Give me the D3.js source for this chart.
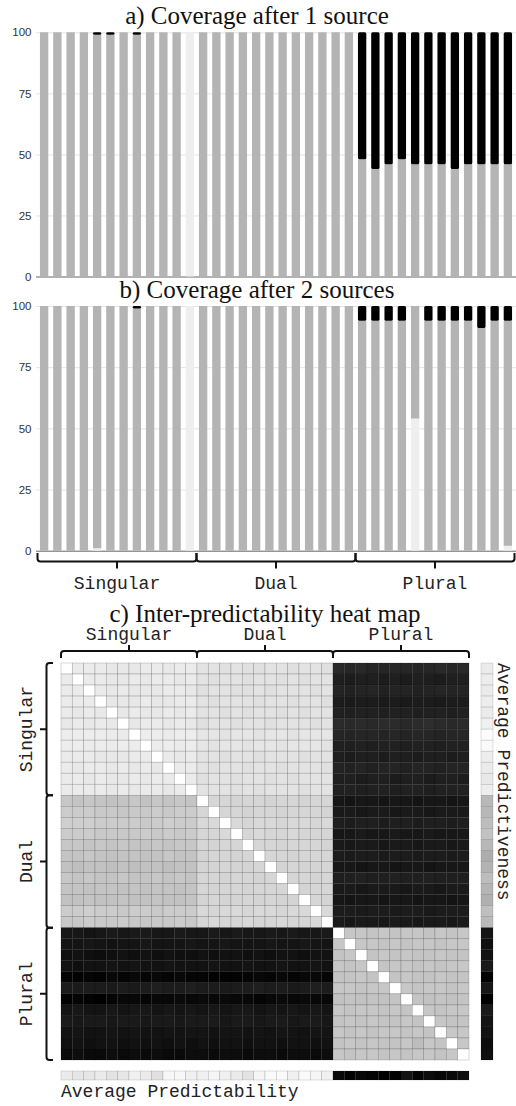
<!DOCTYPE html>
<html lang="en">
    <head>
        <meta charset="UTF-8" />
        <title>Coverage and inter-predictability</title>
        <script src="https://cdn.jsdelivr.net/npm/d3@7/dist/d3.min.js"></script>
    </head>
    <body style="padding: 0; margin: 0; background-color: #fff;">
        <script>
            // cells of the paradigm, 12 per number
            const groups = ['Singular', 'Dual', 'Plural'];
            const cells = [
                'S1', 'S2', 'S3', 'S4', 'S5', 'S6', 'S7', 'S8', 'S9', 'S10', 'S11', 'S12',
                'D1', 'D2', 'D3', 'D4', 'D5', 'D6', 'D7', 'D8', 'D9', 'D10', 'D11', 'D12',
                'P1', 'P2', 'P3', 'P4', 'P5', 'P6', 'P7', 'P8', 'P9', 'P10', 'P11', 'P12'
            ];
            const yTicks = [0, 25, 50, 75, 100];

            // a) coverage after 1 source (percent)
            const aLight = [0, 0, 0, 0, 0, 0, 0, 0, 0, 0, 0, 100, 0, 0, 0, 0, 0, 0, 0, 0, 0, 0, 0, 0, 0, 0, 0, 0, 0, 0, 0, 0, 0, 0, 0, 0];
            const aGray = [100, 100, 100, 100, 99, 99, 100, 99, 100, 100, 100, 0, 100, 100, 100, 100, 100, 100, 100, 100, 100, 100, 100, 100, 48, 44, 46, 48, 46, 46, 46, 44, 46, 46, 46, 46];
            const aBlack = [0, 0, 0, 0, 1, 1, 0, 1, 0, 0, 0, 0, 0, 0, 0, 0, 0, 0, 0, 0, 0, 0, 0, 0, 52, 56, 54, 52, 54, 54, 54, 56, 54, 54, 54, 54];

            // b) coverage after 2 sources (percent)
            const bLight = [0, 0, 0, 0, 1, 0, 0, 0, 0, 0, 0, 100, 0, 0, 0, 0, 0, 0, 0, 0, 0, 0, 0, 0, 0, 0, 0, 0, 54, 0, 0, 0, 0, 0, 0, 2];
            const bGray = [100, 100, 100, 100, 99, 100, 100, 99, 100, 100, 100, 0, 100, 100, 100, 100, 100, 100, 100, 100, 100, 100, 100, 100, 94, 94, 94, 94, 46, 94, 94, 94, 94, 91, 94, 92];
            const bBlack = [0, 0, 0, 0, 0, 0, 0, 1, 0, 0, 0, 0, 0, 0, 0, 0, 0, 0, 0, 0, 0, 0, 0, 0, 6, 6, 6, 6, 0, 6, 6, 6, 6, 9, 6, 6];

            // c) inter-predictability, row predicts column (0 = black, 100 = white)
            const heat = [
                [100, 92, 92, 92, 91, 91, 91, 92, 92, 91, 92, 92, 89, 89, 88, 89, 88, 88, 89, 89, 88, 89, 89, 88, 16, 15, 16, 14, 15, 15, 15, 14, 15, 16, 15, 16],
                [92, 100, 92, 92, 91, 91, 92, 91, 92, 92, 91, 92, 89, 88, 89, 89, 88, 89, 89, 88, 89, 88, 89, 89, 12, 11, 12, 12, 11, 12, 11, 12, 12, 11, 12, 12],
                [92, 92, 100, 92, 91, 92, 91, 91, 91, 92, 92, 91, 88, 89, 89, 88, 88, 89, 88, 89, 89, 89, 88, 89, 14, 13, 14, 15, 13, 14, 14, 13, 14, 15, 14, 14],
                [92, 92, 92, 100, 91, 91, 91, 92, 91, 91, 92, 92, 89, 88, 89, 89, 89, 88, 89, 89, 88, 89, 89, 88, 11, 10, 11, 11, 10, 11, 10, 11, 11, 10, 11, 11],
                [92, 91, 92, 91, 100, 91, 92, 91, 91, 92, 91, 92, 89, 89, 88, 89, 88, 89, 89, 88, 89, 88, 89, 89, 13, 12, 13, 13, 12, 13, 13, 12, 13, 13, 12, 13],
                [91, 92, 91, 92, 91, 100, 91, 92, 92, 91, 92, 91, 88, 89, 89, 88, 89, 89, 88, 89, 89, 89, 88, 89, 17, 16, 17, 16, 17, 17, 16, 17, 18, 17, 16, 17],
                [93, 93, 93, 93, 92, 92, 100, 93, 93, 92, 93, 93, 90, 90, 89, 90, 90, 89, 90, 90, 89, 90, 90, 90, 15, 14, 15, 15, 14, 15, 14, 15, 15, 14, 15, 15],
                [93, 93, 92, 93, 92, 93, 93, 100, 93, 93, 92, 93, 90, 89, 90, 90, 89, 90, 90, 89, 90, 90, 90, 89, 13, 12, 13, 12, 13, 13, 12, 13, 13, 12, 13, 13],
                [92, 92, 92, 91, 91, 91, 92, 92, 100, 92, 91, 92, 89, 89, 88, 89, 89, 88, 89, 89, 89, 88, 89, 89, 12, 11, 12, 12, 11, 12, 12, 11, 12, 12, 11, 12],
                [92, 91, 92, 92, 91, 92, 91, 92, 91, 100, 92, 92, 89, 88, 89, 89, 88, 89, 89, 88, 89, 89, 89, 88, 14, 13, 14, 13, 14, 14, 13, 14, 14, 13, 14, 14],
                [92, 92, 91, 92, 91, 91, 92, 91, 92, 92, 100, 92, 88, 89, 89, 88, 89, 89, 88, 89, 88, 89, 89, 89, 12, 12, 11, 12, 12, 11, 12, 12, 11, 12, 12, 11],
                [92, 92, 92, 92, 91, 92, 91, 92, 92, 91, 92, 100, 89, 89, 89, 88, 89, 88, 89, 89, 89, 88, 89, 89, 13, 13, 12, 13, 13, 12, 13, 13, 12, 13, 13, 13],
                [78, 77, 78, 77, 76, 77, 78, 76, 78, 77, 78, 77, 100, 84, 84, 83, 84, 84, 83, 84, 84, 83, 84, 84, 9, 8, 9, 9, 8, 9, 9, 8, 9, 9, 8, 9],
                [80, 80, 80, 79, 79, 78, 79, 79, 80, 79, 80, 80, 84, 100, 84, 84, 83, 84, 84, 83, 84, 84, 84, 83, 10, 10, 9, 10, 10, 9, 10, 10, 9, 10, 10, 10],
                [81, 81, 81, 80, 80, 80, 80, 79, 80, 81, 80, 80, 85, 85, 100, 85, 84, 85, 85, 84, 85, 85, 84, 85, 12, 11, 12, 12, 11, 12, 12, 11, 12, 12, 11, 12],
                [80, 80, 80, 79, 79, 79, 79, 80, 79, 80, 79, 80, 84, 84, 85, 100, 84, 85, 84, 84, 85, 84, 84, 84, 9, 9, 10, 9, 9, 10, 9, 9, 10, 9, 9, 9],
                [78, 78, 77, 78, 77, 78, 77, 77, 78, 77, 78, 78, 84, 83, 84, 84, 100, 84, 84, 83, 84, 84, 84, 83, 10, 9, 10, 10, 9, 10, 10, 9, 10, 10, 9, 10],
                [77, 77, 78, 77, 76, 77, 77, 76, 77, 78, 77, 77, 83, 84, 84, 83, 84, 100, 84, 84, 83, 84, 84, 84, 11, 10, 11, 11, 10, 11, 11, 10, 11, 11, 10, 11],
                [76, 75, 76, 76, 75, 76, 75, 76, 76, 75, 76, 76, 83, 83, 84, 83, 83, 84, 100, 83, 84, 83, 83, 84, 9, 9, 8, 9, 9, 8, 9, 9, 8, 9, 9, 9],
                [78, 77, 78, 77, 77, 78, 77, 77, 78, 77, 78, 77, 84, 84, 83, 84, 84, 83, 84, 100, 84, 84, 83, 84, 12, 12, 13, 12, 12, 13, 12, 12, 13, 12, 12, 12],
                [77, 77, 76, 77, 77, 76, 77, 76, 77, 77, 76, 77, 84, 83, 84, 84, 83, 84, 84, 84, 100, 83, 84, 84, 10, 10, 9, 10, 10, 10, 9, 10, 10, 9, 10, 10],
                [76, 76, 77, 76, 76, 77, 76, 76, 77, 76, 76, 77, 83, 84, 83, 83, 84, 83, 84, 83, 83, 100, 84, 83, 9, 8, 9, 9, 8, 9, 9, 8, 9, 9, 8, 9],
                [80, 80, 81, 80, 80, 79, 80, 80, 79, 80, 80, 80, 85, 84, 85, 85, 84, 85, 85, 84, 85, 85, 100, 85, 11, 11, 10, 11, 11, 10, 11, 11, 10, 11, 11, 11],
                [79, 79, 80, 79, 79, 80, 79, 78, 79, 79, 80, 79, 84, 85, 84, 84, 85, 84, 84, 85, 84, 84, 85, 100, 10, 9, 10, 10, 9, 10, 10, 9, 10, 10, 9, 10],
                [9, 9, 8, 9, 10, 9, 10, 10, 9, 9, 10, 9, 9, 10, 9, 10, 9, 9, 10, 9, 10, 9, 9, 10, 100, 78, 78, 77, 78, 77, 78, 78, 77, 78, 77, 78],
                [8, 8, 9, 8, 7, 8, 8, 9, 8, 8, 8, 9, 8, 8, 9, 8, 8, 8, 9, 8, 8, 9, 8, 8, 78, 100, 78, 78, 77, 78, 77, 78, 78, 77, 78, 78],
                [6, 7, 6, 5, 6, 7, 6, 7, 6, 7, 6, 6, 7, 6, 7, 7, 6, 7, 6, 7, 7, 6, 7, 7, 77, 78, 100, 77, 78, 77, 78, 77, 77, 78, 77, 77],
                [7, 6, 7, 7, 8, 7, 8, 7, 7, 8, 7, 7, 7, 8, 7, 7, 8, 7, 7, 8, 7, 7, 8, 7, 78, 77, 78, 100, 77, 78, 78, 77, 78, 77, 78, 78],
                [2, 1, 2, 1, 3, 2, 3, 2, 3, 2, 3, 2, 2, 1, 1, 1, 2, 3, 2, 3, 2, 3, 3, 2, 77, 77, 78, 77, 100, 77, 78, 77, 77, 78, 77, 77],
                [11, 10, 11, 11, 10, 11, 10, 11, 12, 11, 11, 12, 11, 11, 10, 11, 11, 12, 11, 11, 10, 11, 12, 11, 78, 78, 77, 78, 78, 100, 78, 77, 78, 78, 77, 78],
                [1, 2, 1, 0, 2, 3, 3, 2, 3, 3, 4, 3, 4, 3, 4, 3, 3, 2, 3, 4, 3, 4, 3, 3, 76, 77, 76, 77, 76, 77, 100, 77, 76, 77, 76, 77],
                [8, 9, 8, 8, 9, 8, 9, 9, 8, 9, 8, 9, 8, 9, 8, 9, 9, 8, 9, 8, 9, 8, 9, 8, 78, 77, 78, 78, 77, 78, 77, 100, 78, 77, 78, 78],
                [10, 9, 10, 10, 9, 10, 10, 9, 10, 10, 9, 10, 10, 10, 9, 10, 10, 9, 10, 10, 9, 10, 10, 9, 77, 78, 77, 78, 77, 77, 78, 77, 100, 78, 77, 77],
                [7, 8, 7, 7, 8, 7, 8, 7, 7, 8, 7, 8, 8, 7, 8, 8, 7, 8, 7, 8, 8, 7, 8, 8, 78, 77, 78, 77, 78, 78, 77, 78, 77, 100, 78, 78],
                [6, 7, 6, 7, 7, 6, 7, 6, 7, 6, 7, 6, 7, 6, 7, 7, 6, 7, 7, 6, 7, 7, 6, 7, 77, 78, 77, 78, 77, 77, 78, 74, 78, 77, 100, 78],
                [4, 5, 4, 4, 5, 4, 5, 4, 5, 4, 4, 5, 5, 4, 5, 5, 4, 5, 5, 4, 5, 5, 4, 5, 78, 77, 78, 78, 77, 78, 77, 78, 78, 77, 78, 100]
            ];
            // side strips
            const predictiveness = [92, 93, 92, 93, 92, 94, 99, 98, 93, 92, 91, 93, 72, 72, 74, 76, 72, 68, 70, 74, 71, 69, 75, 73, 8, 6, 7, 10, 1, 9, 0, 10, 8, 7, 5, 6];
            const predictability = [92, 90, 90, 92, 89, 90, 94, 92, 88, 97, 97, 94, 94, 96, 94, 92, 89, 96, 98, 98, 94, 98, 96, 94, 3, 1, 3, 2, 0, 0, 8, 2, 5, 3, 4, 5];

            const width = 516;
            const height = 1106;
            const mono = '"Liberation Mono", "Courier New", monospace';
            const serif = '"Liberation Serif", "Times New Roman", serif';

            const svg = d3
                .select('body')
                .append('svg')
                .attr('width', width)
                .attr('height', height)
                .style('display', 'block');

            const xBar = d3
                .scaleBand()
                .domain(cells)
                .range([37.5, 514.5])
                .paddingInner(0.37)
                .paddingOuter(0.185);

            const fills = { light: '#eeeeee', gray: '#b4b4b4', black: '#000000' };

            // curly bracket; f maps (along, across) to screen x,y
            function brace(g, a, b, h, t, f) {
                const m = (a + b) / 2;
                const r = 3;
                const p = d3.path();
                p.moveTo(...f(a, 0));
                p.lineTo(...f(a, h - r));
                p.quadraticCurveTo(...f(a, h), ...f(a + r, h));
                p.lineTo(...f(b - r, h));
                p.quadraticCurveTo(...f(b, h), ...f(b, h - r));
                p.lineTo(...f(b, 0));
                p.moveTo(...f(m, h));
                p.lineTo(...f(m, h + t));
                g.append('path')
                    .attr('d', p.toString())
                    .attr('fill', 'none')
                    .attr('stroke', '#111')
                    .attr('stroke-width', 2);
            }

            function barChart(title, titleY, top, bottom, light, gray, black) {
                const y = d3.scaleLinear().domain([0, 100]).range([bottom, top]);
                const rows = cells.map((c, i) => ({
                    cell: c,
                    light: light[i],
                    gray: gray[i],
                    black: black[i]
                }));
                const series = d3.stack().keys(['light', 'gray', 'black'])(rows);

                svg.append('text')
                    .attr('x', 257)
                    .attr('y', titleY)
                    .attr('text-anchor', 'middle')
                    .attr('font-family', serif)
                    .attr('font-size', 25)
                    .attr('fill', '#111')
                    .text(title);

                const axis = svg
                    .append('g')
                    .attr('transform', 'translate(36,0)')
                    .call(
                        d3
                            .axisLeft(y)
                            .tickValues(yTicks)
                            .tickSize(-(width - 36))
                            .tickPadding(4.5)
                    );
                axis.select('.domain').remove();
                axis.selectAll('.tick line').attr('stroke', '#e4e4e4');
                axis.selectAll('.tick')
                    .filter((d) => d === 0)
                    .select('line')
                    .attr('stroke', '#666');
                axis.selectAll('.tick text')
                    .attr('font-family', '"Liberation Sans", Arial, sans-serif')
                    .attr('font-size', 11.5)
                    .attr('fill', '#333');

                svg.append('g')
                    .selectAll('g')
                    .data(series)
                    .join('g')
                    .attr('fill', (s) => fills[s.key])
                    .selectAll('rect')
                    .data((s) => s.map((d) => Object.assign(d, { key: s.key })))
                    .join('rect')
                    .attr('x', (d) => xBar(d.data.cell))
                    .attr('width', xBar.bandwidth())
                    .attr('y', (d) => y(d[1]))
                    .attr('height', (d) => y(d[0]) - y(d[1]))
                    .attr('rx', (d) => (d.key === 'black' ? 1.5 : 0));
            }

            barChart('a) Coverage after 1 source', 24, 32.3, 276.5, aLight, aGray, aBlack);
            barChart('b) Coverage after 2 sources', 298, 306, 550.7, bLight, bGray, bBlack);

            // group brackets under chart b
            const gap = (xBar.step() - xBar.bandwidth()) / 2;
            const under = svg.append('g');
            groups.forEach((name, gi) => {
                const a = xBar(cells[gi * 12]) - gap;
                const b = xBar(cells[gi * 12 + 11]) + xBar.bandwidth() + gap;
                brace(under, a, b, 8.5, 7, (u, v) => [u, 553 + v]);
                under.append('text')
                    .attr('x', (a + b) / 2)
                    .attr('y', 589)
                    .attr('text-anchor', 'middle')
                    .attr('font-family', mono)
                    .attr('font-size', 18)
                    .attr('fill', '#222')
                    .text(name);
            });

            // c) heat map
            svg.append('text')
                .attr('x', 265)
                .attr('y', 622)
                .attr('text-anchor', 'middle')
                .attr('font-family', serif)
                .attr('font-size', 25)
                .attr('fill', '#111')
                .text('c) Inter-predictability heat map');

            const xHeat = d3.scaleBand().domain(cells).range([61, 469]);
            const yHeat = d3.scaleBand().domain(cells).range([663, 1060]);
            const shade = d3.scaleLinear().domain([0, 100]).range(['#000', '#fff']);

            const heatCells = [];
            heat.forEach((row, i) =>
                row.forEach((v, j) => heatCells.push({ from: cells[i], to: cells[j], v: v }))
            );

            svg.append('g')
                .selectAll('rect')
                .data(heatCells)
                .join('rect')
                .attr('x', (d) => xHeat(d.to))
                .attr('y', (d) => yHeat(d.from))
                .attr('width', xHeat.bandwidth())
                .attr('height', yHeat.bandwidth())
                .attr('fill', (d) => shade(d.v))
                .attr('stroke', 'rgba(0,0,0,0.22)')
                .attr('stroke-width', 0.7);

            // right strip: average predictiveness per row
            const strip = svg.append('g');
            strip
                .selectAll('rect.row')
                .data(cells)
                .join('rect')
                .attr('class', 'row')
                .attr('x', 481)
                .attr('y', (c) => yHeat(c))
                .attr('width', 12)
                .attr('height', yHeat.bandwidth())
                .attr('fill', (c, i) => shade(predictiveness[i]))
                .attr('stroke', 'rgba(0,0,0,0.2)')
                .attr('stroke-width', 0.6);

            // bottom strip: average predictability per column
            strip
                .selectAll('rect.col')
                .data(cells)
                .join('rect')
                .attr('class', 'col')
                .attr('x', (c) => xHeat(c))
                .attr('y', 1071)
                .attr('width', xHeat.bandwidth())
                .attr('height', 9)
                .attr('fill', (c, i) => shade(predictability[i]))
                .attr('stroke', 'rgba(0,0,0,0.2)')
                .attr('stroke-width', 0.6);

            strip.append('text')
                .attr('transform', 'translate(498,663) rotate(90)')
                .attr('font-family', mono)
                .attr('font-size', 18)
                .attr('fill', '#222')
                .text('Average Predictiveness');

            strip.append('text')
                .attr('x', 61)
                .attr('y', 1097)
                .attr('font-family', mono)
                .attr('font-size', 18)
                .attr('fill', '#222')
                .text('Average Predictability');

            // brackets above and left of the heat map
            const frame = svg.append('g');
            groups.forEach((name, gi) => {
                const a = xHeat(cells[gi * 12]);
                const b = xHeat(cells[gi * 12 + 11]) + xHeat.bandwidth();
                brace(frame, a, b, 7, 6, (u, v) => [u, 658 - v]);
                frame.append('text')
                    .attr('x', (a + b) / 2)
                    .attr('y', 640)
                    .attr('text-anchor', 'middle')
                    .attr('font-family', mono)
                    .attr('font-size', 18)
                    .attr('fill', '#222')
                    .text(name);

                const c = yHeat(cells[gi * 12]);
                const e = yHeat(cells[gi * 12 + 11]) + yHeat.bandwidth();
                brace(frame, c, e, 6.5, 6.5, (u, v) => [53 - v, u]);
                frame.append('text')
                    .attr('transform', `translate(31.5,${(c + e) / 2}) rotate(-90)`)
                    .attr('text-anchor', 'middle')
                    .attr('font-family', mono)
                    .attr('font-size', 18)
                    .attr('fill', '#222')
                    .text(name);
            });
        </script>
    </body>
</html>
